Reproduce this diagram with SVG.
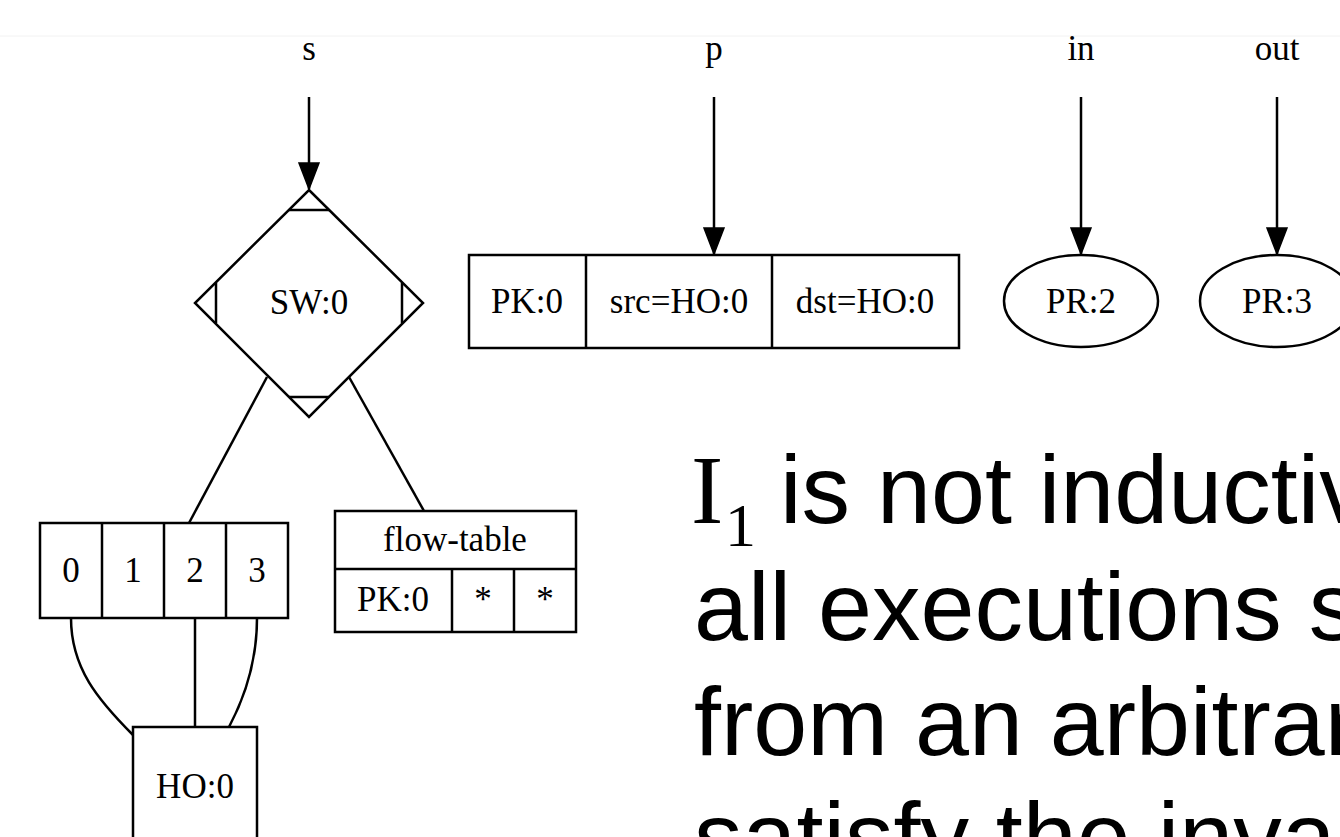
<svg xmlns="http://www.w3.org/2000/svg" width="1340" height="837" viewBox="0 0 1340 837">
<defs>
<style>
.n { fill: #fff; stroke: #000; stroke-width: 2.5; stroke-linejoin: miter }
.d { fill: none; stroke: #000; stroke-width: 2.5 }
.e { fill: none; stroke: #000; stroke-width: 2.5 }
.lbl { font-family: "Liberation Serif", "Times New Roman", serif; font-size: 35px; fill: #000; text-anchor: middle }
.big { font-family: "Liberation Sans", Arial, sans-serif; font-size: 97px; fill: #000 }
.serif { font-family: "Liberation Serif", "Times New Roman", serif }
</style>
<marker id="ah" markerWidth="28" markerHeight="22" refX="27" refY="11" orient="auto" markerUnits="userSpaceOnUse">
<path d="M1,1 L27,11 L1,21 z" fill="#000" stroke="#000" stroke-width="1.5"/>
</marker>
</defs>
<rect x="0" y="0" width="1340" height="837" fill="#fff"/>
<line x1="0" y1="36" x2="1340" y2="36" stroke="#f2f2f2" stroke-width="1"/>

<g id="connectors">
<line class="e" x1="309" y1="97" x2="309" y2="189" marker-end="url(#ah)"/>
<line class="e" x1="714" y1="97" x2="714" y2="254" marker-end="url(#ah)"/>
<line class="e" x1="1081" y1="97" x2="1081" y2="254" marker-end="url(#ah)"/>
<line class="e" x1="1277" y1="97" x2="1277" y2="254" marker-end="url(#ah)"/>
<line class="e" x1="267" y1="377" x2="189" y2="523"/>
<line class="e" x1="349" y1="377" x2="424" y2="511"/>
<path class="e" d="M71,618 C71,668 98,700 133,735"/>
<line class="e" x1="195" y1="618" x2="195" y2="727"/>
<path class="e" d="M257,618 C257,660 246,695 229,727"/>
</g>

<g id="label-s"><text class="lbl" x="309" y="60">s</text></g>
<g id="label-p"><text class="lbl" x="714" y="60">p</text></g>
<g id="label-in"><text class="lbl" x="1081" y="60">in</text></g>
<g id="label-out"><text class="lbl" x="1277" y="60">out</text></g>

<g id="SW0">
<polygon class="n" points="309,190 423,303 309,417 195,303"/>
<line class="d" x1="289" y1="210" x2="329" y2="210"/>
<line class="d" x1="289" y1="397" x2="329" y2="397"/>
<line class="d" x1="216" y1="283" x2="216" y2="323"/>
<line class="d" x1="402" y1="283" x2="402" y2="323"/>
<text class="lbl" x="309" y="314">SW:0</text>
</g>

<g id="PK0">
<rect class="n" x="469" y="255" width="490" height="93"/>
<line class="d" x1="586" y1="255" x2="586" y2="348"/>
<line class="d" x1="772" y1="255" x2="772" y2="348"/>
<text class="lbl" x="527" y="313">PK:0</text>
<text class="lbl" x="679" y="313">src=HO:0</text>
<text class="lbl" x="865" y="313">dst=HO:0</text>
</g>

<g id="PR2">
<ellipse class="n" cx="1081" cy="301" rx="77" ry="46"/>
<text class="lbl" x="1081" y="313">PR:2</text>
</g>

<g id="PR3">
<ellipse class="n" cx="1277" cy="301" rx="77" ry="46"/>
<text class="lbl" x="1277" y="313">PR:3</text>
</g>

<g id="ports">
<rect class="n" x="40" y="523" width="248" height="95"/>
<line class="d" x1="102" y1="523" x2="102" y2="618"/>
<line class="d" x1="164" y1="523" x2="164" y2="618"/>
<line class="d" x1="226" y1="523" x2="226" y2="618"/>
<text class="lbl" x="71" y="582">0</text>
<text class="lbl" x="133" y="582">1</text>
<text class="lbl" x="195" y="582">2</text>
<text class="lbl" x="257" y="582">3</text>
</g>

<g id="flowtable">
<rect class="n" x="335" y="511" width="241" height="121"/>
<line class="d" x1="335" y1="569" x2="576" y2="569"/>
<line class="d" x1="452" y1="569" x2="452" y2="632"/>
<line class="d" x1="514" y1="569" x2="514" y2="632"/>
<text class="lbl" x="455" y="551">flow-table</text>
<text class="lbl" x="393" y="611">PK:0</text>
<text class="lbl" x="483" y="611">*</text>
<text class="lbl" x="545" y="611">*</text>
</g>

<g id="HO0">
<rect class="n" x="133" y="727" width="124" height="160"/>
<text class="lbl" x="195" y="798">HO:0</text>
</g>

<g id="caption">
<text class="big" x="691" y="523"><tspan class="serif">I</tspan><tspan class="serif" x="725" dy="23" font-size="62">1</tspan><tspan x="780" dy="-23">is not inductiv</tspan></text>
<text class="big" x="694" y="640">all executions s</text>
<text class="big" x="694" y="755">from an arbitrar</text>
<text class="big" x="694" y="870">satisfy the invar</text>
</g>
</svg>
